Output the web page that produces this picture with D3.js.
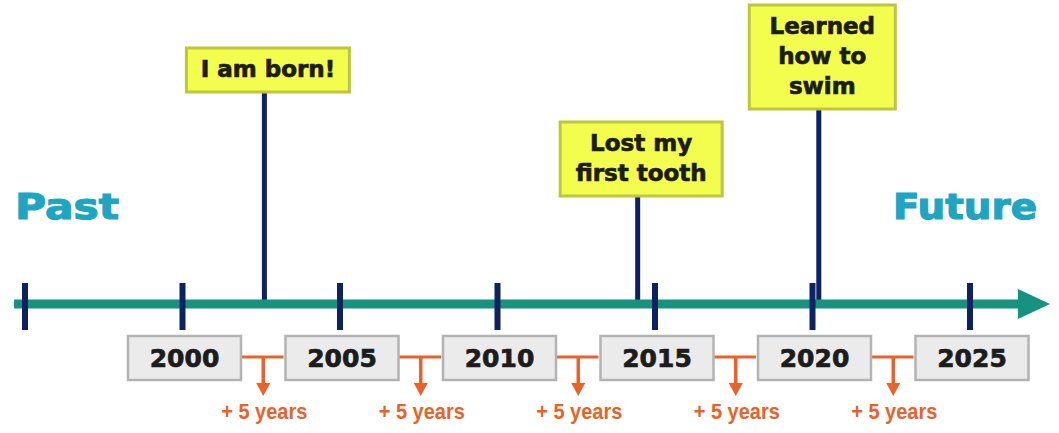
<!DOCTYPE html>
<html>
<head>
<meta charset="utf-8">
<script src="https://cdn.jsdelivr.net/npm/d3@7"></script>
<style>
  html, body { margin: 0; padding: 0; background: #ffffff; }
  svg { display: block; }
</style>
</head>
<body>
<svg id="chart" width="1059" height="433"></svg>
<script>
// ---- data ----
const tickYears = [1995, 2000, 2005, 2010, 2015, 2020, 2025];
const labelYears = [2000, 2005, 2010, 2015, 2020, 2025];
const labelTexts = ["2000", "2005", "2010", "2015", "2020", "2025"];
const intervalText = "+ 5 years";
const eventNames = ["I am born!", "Lost my first tooth", "Learned how to swim"];
const eventYears = [2002.6, 2014.45, 2020.2];
const eventLines = [["I am born!"], ["Lost my", "first tooth"], ["Learned", "how to", "swim"]];
const leftLabel = "Past";
const rightLabel = "Future";

// ---- layout ----
const axisY = 304;
const svg = d3.select("#chart");
const x = d3.scaleLinear().domain([1995, 2025]).range([25, 970]);

const teal = "#16927f", navy = "#0d2263", orange = "#e8622a", cyan = "#1ea5c1";

// Past / Future
[[leftLabel, 15, 104], [rightLabel, 893, 144]].forEach(([t, px, len]) => {
  svg.append("text").attr("x", px).attr("y", 219)
    .attr("font-family", "DejaVu Sans").attr("font-weight", "bold").attr("font-size", 36)
    .attr("fill", cyan).attr("stroke", cyan).attr("stroke-width", 1.2)
    .attr("textLength", len).attr("lengthAdjust", "spacingAndGlyphs")
    .text(t);
});

// event stems
const boxTop = [48, 122, 5];
const boxW = [163, 162, 146];
const lineH = 30;
const evG = svg.append("g");
eventYears.forEach((yr, i) => {
  const n = eventLines[i].length;
  const bh = 14 + n * lineH;
  const cx = x(yr);
  evG.append("rect").attr("x", cx - 2.5).attr("y", boxTop[i] + bh).attr("width", 5)
    .attr("height", axisY - 4 - (boxTop[i] + bh)).attr("fill", navy);
});

// axis line with arrow
svg.append("rect").attr("x", 14).attr("y", axisY - 4.5).attr("width", 1006).attr("height", 9).attr("fill", teal);
svg.append("path").attr("d", `M1018,${axisY - 15}L1050,${axisY}L1018,${axisY + 15}Z`).attr("fill", teal);

// ticks
svg.selectAll("rect.tick").data(tickYears).enter().append("rect").attr("class", "tick")
  .attr("x", d => x(d) - 3).attr("y", 283).attr("width", 6).attr("height", 47).attr("fill", navy);

// event boxes
eventYears.forEach((yr, i) => {
  const n = eventLines[i].length;
  const bh = 14 + n * lineH;
  const cx = x(yr) + 3.5;
  evG.append("rect").attr("x", cx - boxW[i] / 2).attr("y", boxTop[i]).attr("width", boxW[i]).attr("height", bh)
    .attr("fill", "#f3fd4e").attr("stroke", "#bcc63f").attr("stroke-width", 3);
  eventLines[i].forEach((ln, j) => {
    evG.append("text").attr("x", cx).attr("y", boxTop[i] + 29 + j * lineH)
      .attr("text-anchor", "middle").attr("font-family", "DejaVu Sans").attr("font-weight", "bold")
      .attr("font-size", 23).attr("fill", "#1c1c1c").attr("stroke", "#1c1c1c").attr("stroke-width", 0.7)
      .text(ln);
  });
});

// year label boxes
const lbW = 113, lbH = 44, lbTop = 336;
const lg = svg.append("g");
for (let i = 0; i < labelYears.length - 1; i++) {
  const x1 = x(labelYears[i]) + lbW / 2, x2 = x(labelYears[i + 1]) - lbW / 2;
  const mx = (x1 + x2) / 2 + 2;
  const cy = 357;
  lg.append("line").attr("x1", x1).attr("x2", x2).attr("y1", cy).attr("y2", cy)
    .attr("stroke", orange).attr("stroke-width", 3);
  lg.append("line").attr("x1", mx).attr("x2", mx).attr("y1", cy).attr("y2", 384)
    .attr("stroke", orange).attr("stroke-width", 3.5);
  lg.append("path").attr("d", `M${mx - 7},383L${mx + 7},383L${mx},396Z`).attr("fill", orange);
  lg.append("text").attr("x", mx + 1).attr("y", 419).attr("text-anchor", "middle")
    .attr("font-family", "Liberation Sans").attr("font-weight", "bold").attr("font-size", 22)
    .attr("textLength", 86).attr("lengthAdjust", "spacingAndGlyphs")
    .attr("fill", orange).text(intervalText);
}
labelYears.forEach((yr, i) => {
  const cx = x(yr) + 2;
  lg.append("rect").attr("x", cx - lbW / 2).attr("y", lbTop).attr("width", lbW).attr("height", lbH)
    .attr("fill", "#ebebeb").attr("stroke", "#b3b3b3").attr("stroke-width", 2.5);
  lg.append("text").attr("x", cx).attr("y", 367).attr("text-anchor", "middle")
    .attr("font-family", "DejaVu Sans").attr("font-weight", "bold").attr("font-size", 25)
    .attr("fill", "#1c1c1c").attr("stroke", "#1c1c1c").attr("stroke-width", 0.7)
    .text(labelTexts[i]);
});
</script>
</body>
</html>
